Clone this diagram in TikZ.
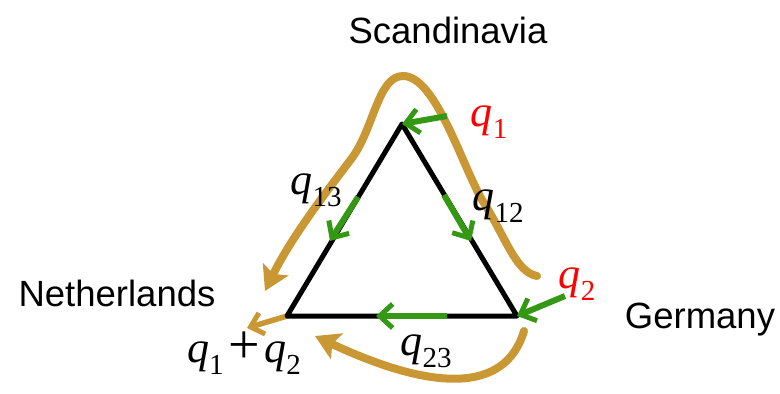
\documentclass[tikz,border=0pt]{standalone}
\usepackage{fontspec}
\setmainfont{Liberation Sans}
\newfontfamily\tms{Liberation Serif}
\usetikzlibrary{arrows.meta}
\definecolor{gold}{RGB}{201,152,52}
\definecolor{grn}{RGB}{52,152,20}
\newcommand\qvar[1]{{\tms\itshape q}\kern0pt\raisebox{-0.27em}{\fontsize{29}{29}\selectfont\tms #1}}
\begin{document}
\begin{tikzpicture}[x=1pt,y=-1pt,
  edge/.style={line width=5pt, black, line join=round},
  flow/.style={line width=6pt, grn, -{Straight Barb[length=13pt,width=24pt,line width=5pt]}},
  goldline/.style={line width=8pt, gold, line cap=round},
  goldhead/.style={-{Stealth[length=24pt,width=28pt,inset=5pt]}},
  place/.style={font=\fontsize{36.5}{40}\selectfont},
  mlab/.style={font=\fontsize{44}{46}\selectfont}]
\useasboundingbox (0,0) rectangle (780,394);
% vertices
\coordinate (S) at (402,124);
\coordinate (N) at (287,316);
\coordinate (G) at (517,316);
\coordinate (q1s) at (447,116);
\coordinate (q2s) at (565,296);
\coordinate (lfs) at (358,197);
\coordinate (lfe) at (330,241);
\coordinate (rfs) at (444,195);
\coordinate (rfe) at (471,241);
\coordinate (bfs) at (447,316);
\coordinate (bfe) at (376,316);
\coordinate (outN) at (247,328);
\coordinate (bigS) at (537,276);
\coordinate (bigE) at (265,291);
\coordinate (botS) at (524,331);
\coordinate (botE) at (315,336);
% gold curves
\draw[goldline, goldhead] (bigS) .. controls (515,272) and (505,235) .. (482,200)
  .. controls (460,160) and (435,76) .. (403,76)
  .. controls (378,76) and (374,128) .. (352,158)
  .. controls (320,200) and (290,240) .. (bigE);
\draw[goldline, goldhead] (botS) .. controls (505,395) and (430,390) .. (botE);
\draw[line width=5.5pt, gold, -{Straight Barb[length=12pt,width=22pt,line width=5pt]}] (N) -- (outN);
% triangle
\draw[edge] (S) -- (N) -- (G) -- cycle;
% green flows
\draw[flow] (q1s) -- (S);
\draw[flow] (q2s) -- (G);
\draw[flow] (lfs) -- (lfe);
\draw[flow] (rfs) -- (rfe);
\draw[flow] (bfs) -- (bfe);
% labels
\node[place] (scan) at (448,30) {Scandinavia};
\node[place] (neth) at (117,293) {Netherlands};
\node[place] (germ) at (700,320) {Germany};
\node[mlab, red] (lq1) at (489,122) {\qvar{1}};
\node[mlab, red] (lq2) at (577,284) {\qvar{2}};
\node[mlab] (lq13) at (316,190) {\qvar{13}};
\node[mlab] (lq12) at (498,206) {\qvar{12}};
\node[mlab] (lq23) at (426,351) {\qvar{23}};
\node[mlab] (lqs) at (244,353) {\qvar{1}\kern5pt\raisebox{-1pt}{\fontsize{56}{56}\selectfont\tms+}\kern4pt\qvar{2}};
\end{tikzpicture}
\end{document}
